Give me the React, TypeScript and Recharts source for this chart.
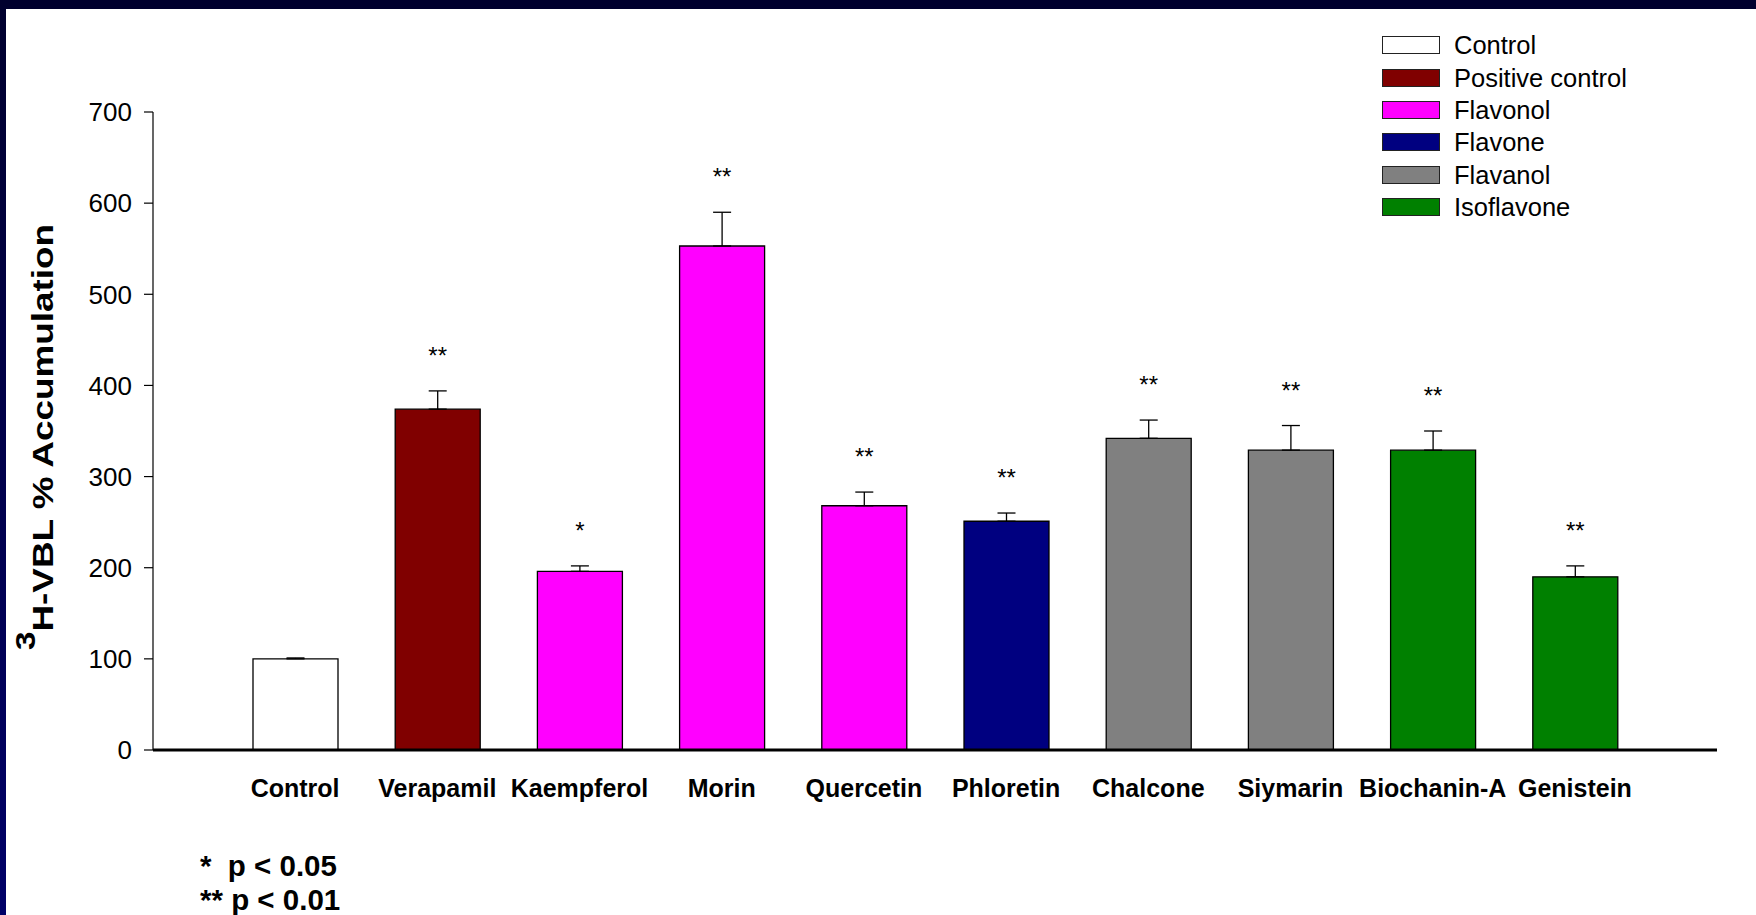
import React from 'react'
import { BarChart, Bar, XAxis, YAxis, Cell, ErrorBar, LabelList } from 'recharts'

const categories = ['Control', 'Verapamil', 'Kaempferol', 'Morin', 'Quercetin', 'Phloretin', 'Chalcone', 'Siymarin', 'Biochanin-A', 'Genistein']
const values = [100, 374, 196, 553, 268, 251, 342, 329, 329, 190]
const errors = [1, 20, 6, 37, 15, 9, 20, 27, 21, 12]
const stars = ['', '**', '*', '**', '**', '**', '**', '**', '**', '**']
const barGroup = ['Control', 'Positive control', 'Flavonol', 'Flavonol', 'Flavonol', 'Flavone', 'Flavanol', 'Flavanol', 'Isoflavone', 'Isoflavone']

const groupNames = ['Control', 'Positive control', 'Flavonol', 'Flavone', 'Flavanol', 'Isoflavone']
const groupColors = ['#ffffff', '#800000', '#ff00ff', '#000080', '#808080', '#008000']

const yTicks = [0, 100, 200, 300, 400, 500, 600, 700]

const FONT = '"Liberation Sans", Arial, sans-serif'

const data = categories.map((name, i) => ({
  name,
  value: values[i],
  err: [0, errors[i]],
}))

const colorOf = (i: number) => groupColors[groupNames.indexOf(barGroup[i])]

// significance stars sit a fixed gap above the error cap
const StarLabel = (props: any) => {
  const { x, y, width, height, index } = props
  const s = stars[index]
  if (!s) return null
  const pxPerUnit = height / values[index]
  const top = y - errors[index] * pxPerUnit
  return (
    <text x={x + width / 2} y={top - 27} textAnchor="middle" fontSize={24} fontFamily={FONT} fill="#000">
      {s}
    </text>
  )
}

const YLabel = (props: any) => {
  const vb = props.viewBox || {}
  const cy = vb.y + vb.height / 2 + 6
  return (
    <text
      transform={`translate(53, ${cy}) rotate(-90)`}
      textAnchor="middle"
      fontSize={30}
      fontWeight="bold"
      fontFamily={FONT}
      fill="#000"
      textLength={426}
      lengthAdjust="spacingAndGlyphs"
    >
      <tspan fontSize={27} dy={-18}>3</tspan>
      <tspan dy={18}>H-VBL % Accumulation</tspan>
    </text>
  )
}

function Legend6() {
  return (
    <div style={{ position: 'absolute', left: 1382, top: 29, fontFamily: FONT, fontSize: 25.5, color: '#000' }}>
      {groupNames.map((g, i) => (
        <div key={g} style={{ display: 'flex', alignItems: 'center', height: 32.4 }}>
          <div style={{ width: 56, height: 16, border: '1px solid #222', background: groupColors[i], marginRight: 14 }} />
          <span style={{ lineHeight: '32px' }}>{g}</span>
        </div>
      ))}
    </div>
  )
}

export default function App() {
  return (
    <div style={{ position: 'absolute', left: 0, top: 0, width: 1756, height: 915, background: '#fff', overflow: 'hidden' }}>
      <div style={{ position: 'absolute', left: 0, top: 0, width: 1756, height: 9, background: '#00002e' }} />
      <div style={{ position: 'absolute', left: 0, top: 0, width: 6, height: 915, background: 'linear-gradient(#00002e, #000068)' }} />

      <BarChart
        width={1756}
        height={915}
        data={data}
        margin={{ top: 112, right: 39, bottom: 105, left: 53 }}
        barSize={85}
      >
        <XAxis
          dataKey="name"
          axisLine={{ stroke: '#000', strokeWidth: 3 }}
          tickLine={false}
          tickSize={6}
          tickMargin={23}
          height={60}
          padding={{ left: 71, right: 71 }}
          interval={0}
          tick={{ fontSize: 25, fontWeight: 'bold', fill: '#000', fontFamily: FONT }}
        />
        <YAxis
          domain={[0, 700]}
          ticks={yTicks}
          width={100}
          axisLine={{ stroke: '#000', strokeWidth: 1.2 }}
          tickLine={{ stroke: '#000', strokeWidth: 1.2 }}
          tickSize={9}
          tickMargin={12}
          tick={{ fontSize: 26, fill: '#000', fontFamily: FONT }}
          label={<YLabel />}
        />
        <Bar dataKey="value" stroke="#000" strokeWidth={1.3} isAnimationActive={false}>
          {data.map((d, i) => (
            <Cell key={d.name} fill={colorOf(i)} />
          ))}
          <ErrorBar dataKey="err" direction="y" width={9} stroke="#000" strokeWidth={1.3} />
          <LabelList dataKey="value" content={<StarLabel />} />
        </Bar>
      </BarChart>

      <Legend6 />

      <svg width={1756} height={915} style={{ position: 'absolute', left: 0, top: 0, pointerEvents: 'none' }}>
        <text x={200} y={876} fontSize={29.5} fontWeight="bold" fontFamily={FONT} fill="#000" style={{ whiteSpace: 'pre' }}>
          {'*  p < 0.05'}
        </text>
        <text x={200} y={910} fontSize={29.5} fontWeight="bold" fontFamily={FONT} fill="#000" style={{ whiteSpace: 'pre' }}>
          {'** p < 0.01'}
        </text>
      </svg>
    </div>
  )
}
